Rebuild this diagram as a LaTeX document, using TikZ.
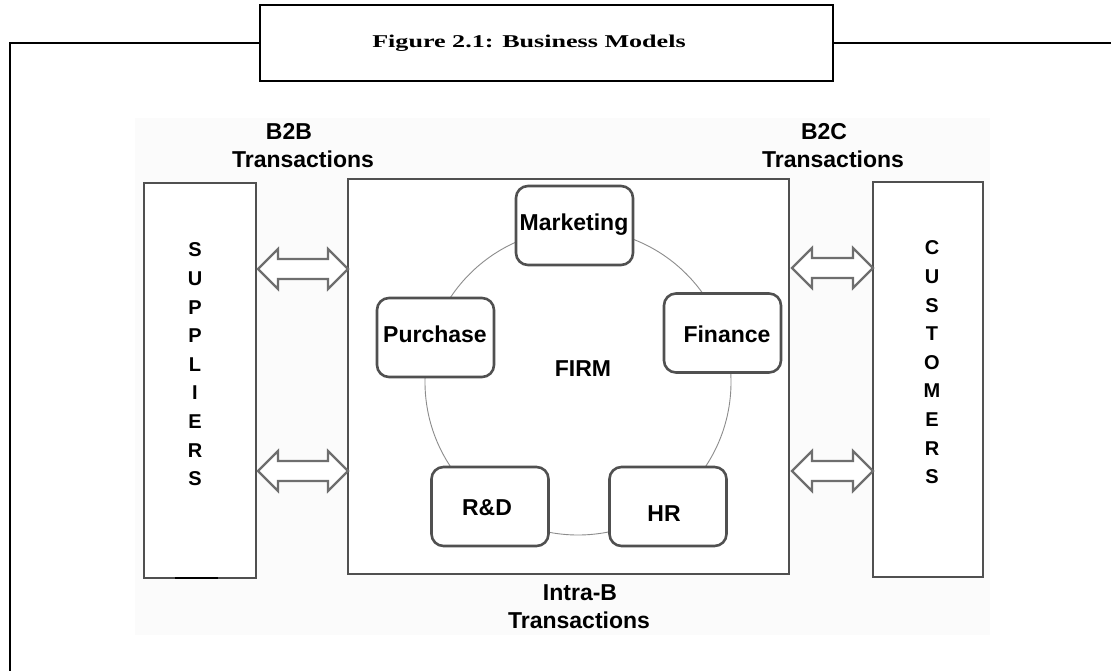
\documentclass[tikz,border=0pt]{standalone}
\usepackage{fontspec}
\setmainfont{Liberation Sans}
\newfontfamily\arialf{Liberation Sans}
\newfontfamily\titlef{Liberation Serif}
\usetikzlibrary{calc}
\definecolor{boxgray}{RGB}{80,80,80}
\definecolor{arrgray}{RGB}{110,110,110}
\definecolor{circgray}{RGB}{140,140,140}
\definecolor{bggray}{RGB}{251,251,251}
\tikzset{
  frameline/.style={draw=black,line width=2.6pt},
  bigbox/.style={draw=boxgray,line width=2.4pt,fill=white,inner sep=0pt,outer sep=0pt,minimum height=395pt},
  funcbox/.style={draw=boxgray,line width=2.6pt,fill=white,rounded corners=12pt,inner sep=0pt,outer sep=0pt,minimum width=117pt,minimum height=79pt},
  lbl/.style={font=\arialf\bfseries\fontsize{23}{27}\selectfont,inner sep=0pt,anchor=base},
  vlbl/.style={font=\arialf\bfseries\fontsize{20}{24}\selectfont,inner sep=0pt,anchor=center},
  dbl/.style={draw=arrgray,line width=2.2pt,fill=white,line join=miter},
}
\newcommand\dblarrow[2]{%
  \draw[dbl] let \p1=(#1), \p2=(#2) in
    (\x1,\y1) -- (\x1+20pt,\y1+20pt) -- (\x1+20pt,\y1+10pt) -- (\x2-20pt,\y1+10pt)
    -- (\x2-20pt,\y1+20pt) -- (\x2,\y1) -- (\x2-20pt,\y1-20pt) -- (\x2-20pt,\y1-10pt)
    -- (\x1+20pt,\y1-10pt) -- (\x1+20pt,\y1-20pt) -- cycle;}
\begin{document}
\begin{tikzpicture}[x=1pt,y=-1pt]
\useasboundingbox (0,0) rectangle (1111,671);
% background of the scanned figure
\fill[bggray] (135,118) rectangle (990,635);
% title and frame
\node[frameline,fill=white,minimum width=573pt,minimum height=76pt,inner sep=0pt,outer sep=0pt] (title) at (546.5,43) {};
\node[inner sep=0pt,anchor=base] (titlet) at (529,48)
  {\titlef\bfseries\fontsize{18}{21}\selectfont\scalebox{1.45}[1]{Figure 2.1: Business Models}};
\draw[frameline] (title.west) -- (10,43) -- (10,675);
\draw[frameline] (title.east) -- (1115,43);
% big boxes
\node[bigbox,minimum width=112pt] (sup) at (200,380.5) {};
\node[bigbox,minimum width=441pt] (firm) at (568.5,376.5) {};
\node[bigbox,minimum width=110pt] (cust) at (928,379.5) {};
\draw[black,line width=2.4pt] ($(sup.south)+(-25,0)$) -- ($(sup.south)+(18,0)$);
% circle inside firm box
\draw[circgray,line width=0.9pt] (578,382) circle[radius=153];
% function boxes
\node[funcbox] (mkt) at (574.5,225.5) {};
\node[funcbox] (pur) at (435.5,337.5) {};
\node[funcbox] (fin) at (722.5,333) {};
\node[funcbox] (rnd) at (490,506.5) {};
\node[funcbox] (hr)  at (668,506.5) {};
\node[lbl] (mktt) at (574,230) {Marketing};
\node[lbl] (purt) at (435,342) {Purchase};
\node[lbl] (fint) at (727,342) {Finance};
\node[lbl] (rndt) at (487,515) {R\&D};
\node[lbl] (hrt)  at (664,521) {HR};
\node[lbl] (firmt) at (583,376) {FIRM};
% transaction labels
\node[lbl] (b2b) at (289,140) {B2B};
\node[lbl] (b2bt) at (303,168) {Transactions};
\node[lbl] (b2c) at (824,140) {B2C};
\node[lbl] (b2ct) at (833,168) {Transactions};
\node[lbl] (intra) at (580,600) {Intra-B};
\node[lbl] (intrat) at (579,628) {Transactions};
% vertical words
\foreach \c [count=\i from 0] in {S,U,P,P,L,I,E,R,S}
  \node[vlbl] (s\i) at (195,250+28.6*\i) {\c};
\foreach \c [count=\i from 0] in {C,U,S,T,O,M,E,R,S}
  \node[vlbl] (c\i) at (932,248+28.6*\i) {\c};
% double arrows
\coordinate (a1) at (sup.east |- 0,269);  \coordinate (b1) at (firm.west |- 0,269);
\coordinate (a2) at (sup.east |- 0,471);  \coordinate (b2) at (firm.west |- 0,471);
\coordinate (a3) at (firm.east |- 0,268); \coordinate (b3) at (cust.west |- 0,268);
\coordinate (a4) at (firm.east |- 0,471); \coordinate (b4) at (cust.west |- 0,471);
\dblarrow{$(a1)+(2,0)$}{b1}
\dblarrow{$(a2)+(2,0)$}{b2}
\dblarrow{$(a3)+(3,0)$}{b3}
\dblarrow{$(a4)+(3,0)$}{b4}
\end{tikzpicture}
\end{document}
